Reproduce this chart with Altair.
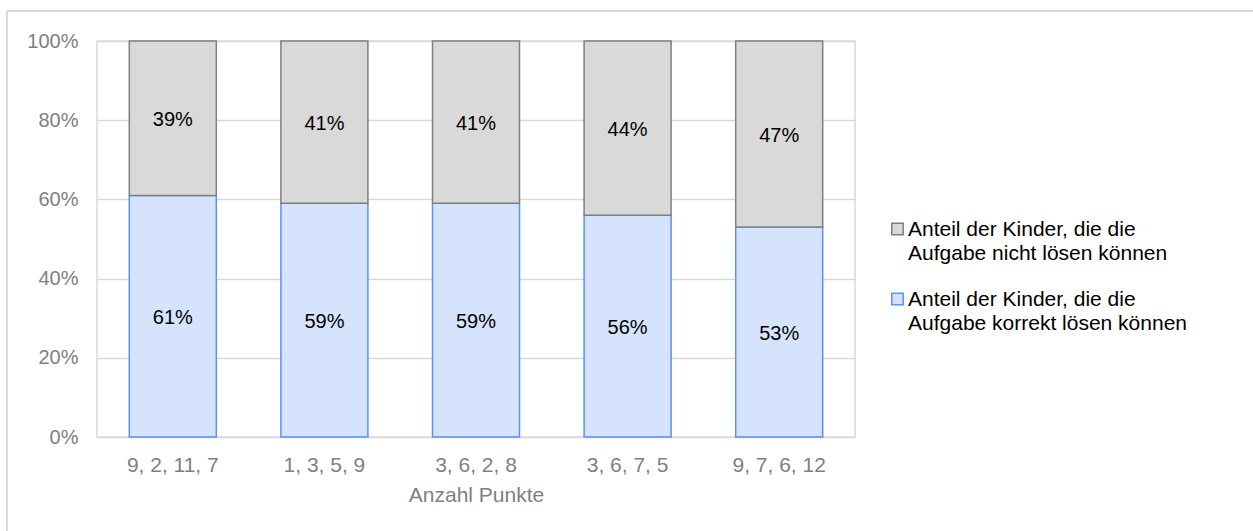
import altair as alt
import pandas as pd

categories = ["9, 2, 11, 7", "1, 3, 5, 9", "3, 6, 2, 8", "3, 6, 7, 5", "9, 7, 6, 12"]
korrekt = [61, 59, 59, 56, 53]
nicht = [39, 41, 41, 44, 47]
series = [
    "Anteil der Kinder, die die Aufgabe nicht lösen können",
    "Anteil der Kinder, die die Aufgabe korrekt lösen können",
]
y_ticks = [0, 20, 40, 60, 80, 100]

rows = []
for c, k, n in zip(categories, korrekt, nicht):
    rows.append({"cat": c, "series": series[1], "value": k, "order": 0})
    rows.append({"cat": c, "series": series[0], "value": n, "order": 1})
df = pd.DataFrame(rows)

FONT = "Liberation Sans"
GRAY = "#808080"

base = alt.Chart(df).transform_stack(
    stack="value", as_=["v0", "v1"], groupby=["cat"], sort=[alt.SortField("order")]
).transform_calculate(mid="(datum.v0 + datum.v1) / 2")

x_enc = alt.X(
    "cat:N",
    sort=categories,
    title="Anzahl Punkte",
    axis=alt.Axis(
        labelAngle=0, ticks=False, domain=False, labelPadding=28,
        labelBaseline="middle", labelFontSize=21, labelColor=GRAY,
        titleFontSize=21, titleColor=GRAY, titleFontWeight="normal", titlePadding=9,
    ),
    scale=alt.Scale(paddingInner=0, paddingOuter=0),
)

legend = alt.Legend(
    title=None, orient="none", legendX=790, legendY=167,
    symbolType="M-1,0.84H1V2.84H-1Z", symbolSize=130, symbolStrokeWidth=1.5,
    labelFontSize=21, labelColor="#000000", labelLimit=400,
    labelExpr="[slice(datum.label, 0, 26), slice(datum.label, 27)]",
    labelBaseline="top", labelOffset=0, rowPadding=14,
)

bars = base.mark_bar(size=87, strokeWidth=1.5).encode(
    x=x_enc,
    y=alt.Y(
        "v0:Q",
        scale=alt.Scale(domain=[0, 100]),
        title=None,
        axis=alt.Axis(
            values=y_ticks, labelExpr="datum.value + '%'", ticks=False, domain=False,
            labelPadding=19, labelFontSize=20, labelColor=GRAY,
            gridColor="#d9d9d9", gridWidth=1.5,
        ),
    ),
    y2="v1:Q",
    color=alt.Color(
        "series:N",
        scale=alt.Scale(domain=series, range=["#d9d9d9", "#d6e3fc"]),
        legend=legend,
    ),
    stroke=alt.Stroke(
        "series:N",
        scale=alt.Scale(domain=series, range=["#7f7f7f", "#5b8ff9"]),
        legend=legend,
    ),
    order=alt.Order("order:Q"),
)

labels = base.mark_text(fontSize=20, color="#000000", font=FONT, dy=2).encode(
    x=alt.X("cat:N", sort=categories),
    y=alt.Y("mid:Q"),
    text=alt.Text("label:N"),
).transform_calculate(label="datum.value + '%'")

frame_top = alt.Chart(df).mark_rule(color="#d9d9d9", strokeWidth=1.5).encode(
    x=alt.value(-90), x2=alt.value(1200), y=alt.value(-30)
)
frame_left = alt.Chart(df).mark_rule(color="#d9d9d9", strokeWidth=1.5).encode(
    x=alt.value(-90), y=alt.value(-30), y2=alt.value(520)
)

chart = alt.layer(frame_top, frame_left, bars, labels).properties(
    width=758, height=396,
    autosize=alt.AutoSizeParams(type="none"),
    padding={"left": 97, "top": 41, "right": 398, "bottom": 94},
).configure(
    font=FONT, style={"guide-label": {"lineHeight": 24}}
).configure_view(
    stroke="#d9d9d9", strokeWidth=1.5
)

chart.save("out.html", embed_options={"renderer": "svg", "actions": False})
